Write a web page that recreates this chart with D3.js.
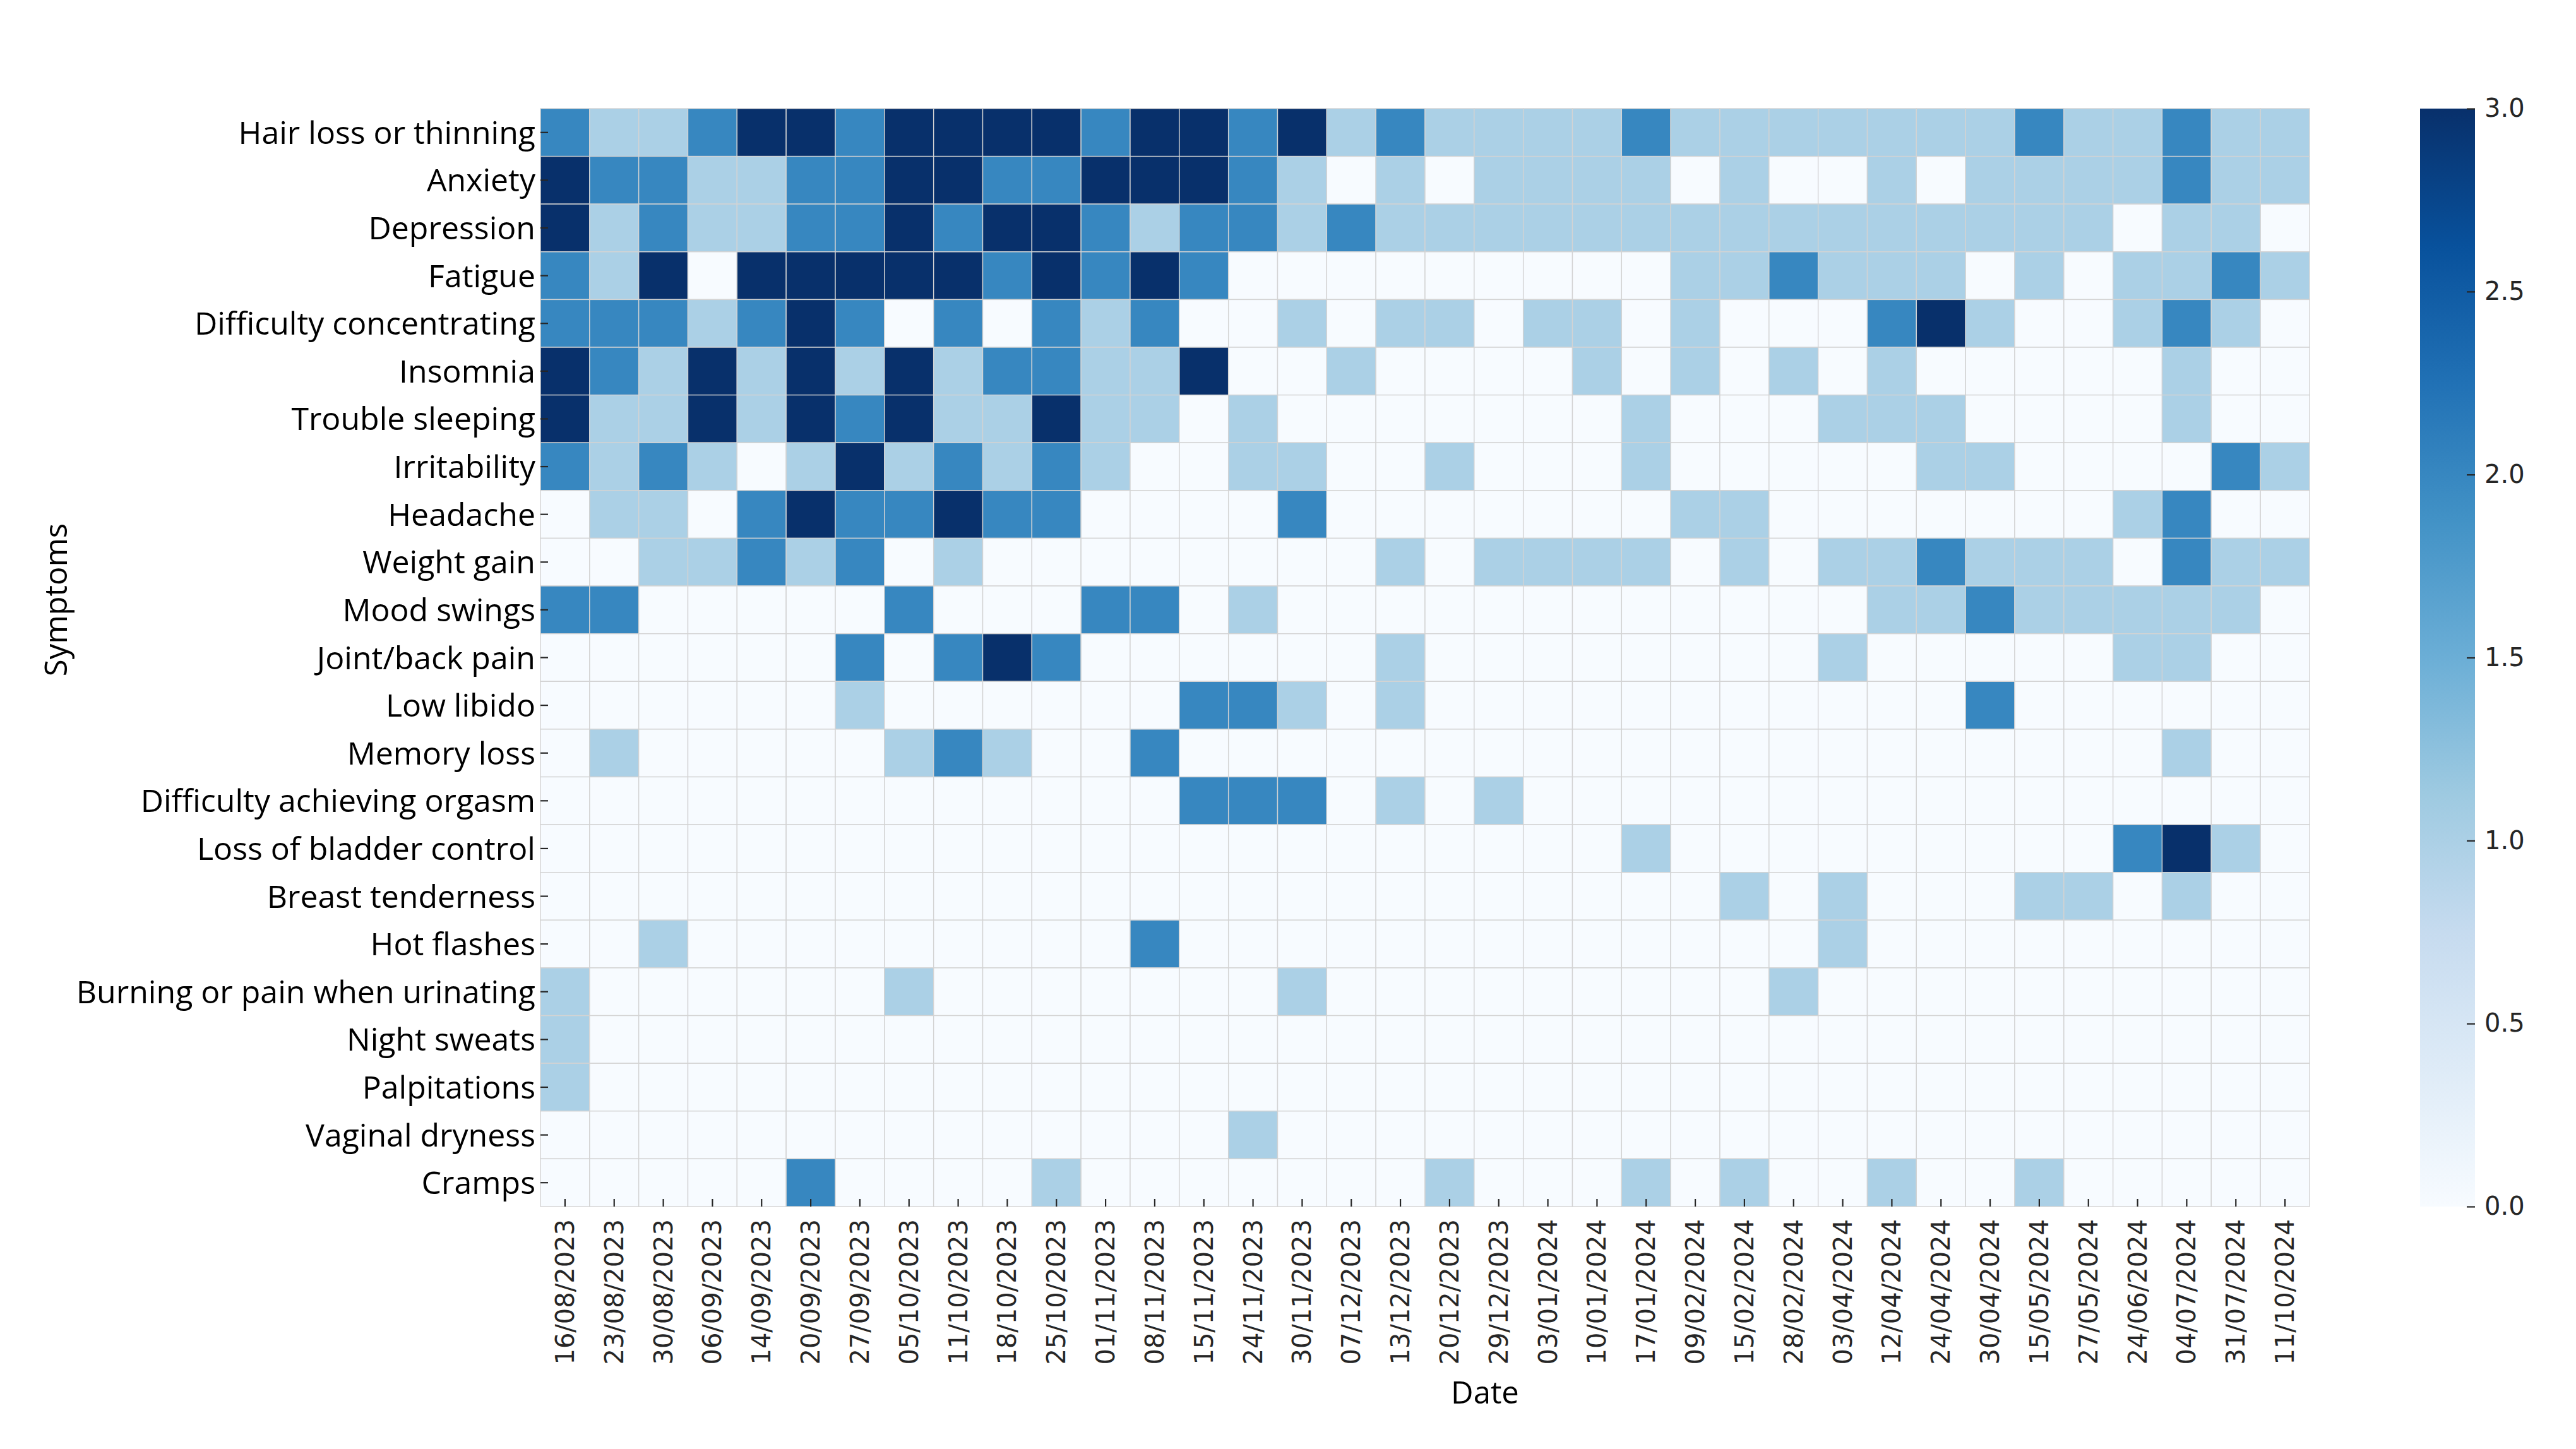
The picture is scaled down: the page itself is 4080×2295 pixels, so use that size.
<!DOCTYPE html>
<html>
<head>
<meta charset="utf-8">
<script src="https://cdnjs.cloudflare.com/ajax/libs/d3/7.8.5/d3.min.js"></script>
<style>
  html, body { margin: 0; padding: 0; background: #fff; }
  svg { display: block; }
</style>
</head>
<body>
<div id="chart"></div>
<script>
// ── data ──────────────────────────────────────────
const dates = [
  "16/08/2023", "23/08/2023", "30/08/2023", "06/09/2023", "14/09/2023", "20/09/2023",
  "27/09/2023", "05/10/2023", "11/10/2023", "18/10/2023", "25/10/2023", "01/11/2023",
  "08/11/2023", "15/11/2023", "24/11/2023", "30/11/2023", "07/12/2023", "13/12/2023",
  "20/12/2023", "29/12/2023", "03/01/2024", "10/01/2024", "17/01/2024", "09/02/2024",
  "15/02/2024", "28/02/2024", "03/04/2024", "12/04/2024", "24/04/2024", "30/04/2024",
  "15/05/2024", "27/05/2024", "24/06/2024", "04/07/2024", "31/07/2024", "11/10/2024"
];

const symptoms = [
  "Hair loss or thinning", "Anxiety", "Depression", "Fatigue", "Difficulty concentrating",
  "Insomnia", "Trouble sleeping", "Irritability", "Headache", "Weight gain", "Mood swings",
  "Joint/back pain", "Low libido", "Memory loss", "Difficulty achieving orgasm",
  "Loss of bladder control", "Breast tenderness", "Hot flashes",
  "Burning or pain when urinating", "Night sweats", "Palpitations", "Vaginal dryness", "Cramps"
];

// one row per symptom, one value per date (severity 0–3)
const severity = [
  [2,1,1,2,3,3,2,3,3,3,3,2,3,3,2,3,1,2,1,1,1,1,2,1,1,1,1,1,1,1,2,1,1,2,1,1],
  [3,2,2,1,1,2,2,3,3,2,2,3,3,3,2,1,0,1,0,1,1,1,1,0,1,0,0,1,0,1,1,1,1,2,1,1],
  [3,1,2,1,1,2,2,3,2,3,3,2,1,2,2,1,2,1,1,1,1,1,1,1,1,1,1,1,1,1,1,1,0,1,1,0],
  [2,1,3,0,3,3,3,3,3,2,3,2,3,2,0,0,0,0,0,0,0,0,0,1,1,2,1,1,1,0,1,0,1,1,2,1],
  [2,2,2,1,2,3,2,0,2,0,2,1,2,0,0,1,0,1,1,0,1,1,0,1,0,0,0,2,3,1,0,0,1,2,1,0],
  [3,2,1,3,1,3,1,3,1,2,2,1,1,3,0,0,1,0,0,0,0,1,0,1,0,1,0,1,0,0,0,0,0,1,0,0],
  [3,1,1,3,1,3,2,3,1,1,3,1,1,0,1,0,0,0,0,0,0,0,1,0,0,0,1,1,1,0,0,0,0,1,0,0],
  [2,1,2,1,0,1,3,1,2,1,2,1,0,0,1,1,0,0,1,0,0,0,1,0,0,0,0,0,1,1,0,0,0,0,2,1],
  [0,1,1,0,2,3,2,2,3,2,2,0,0,0,0,2,0,0,0,0,0,0,0,1,1,0,0,0,0,0,0,0,1,2,0,0],
  [0,0,1,1,2,1,2,0,1,0,0,0,0,0,0,0,0,1,0,1,1,1,1,0,1,0,1,1,2,1,1,1,0,2,1,1],
  [2,2,0,0,0,0,0,2,0,0,0,2,2,0,1,0,0,0,0,0,0,0,0,0,0,0,0,1,1,2,1,1,1,1,1,0],
  [0,0,0,0,0,0,2,0,2,3,2,0,0,0,0,0,0,1,0,0,0,0,0,0,0,0,1,0,0,0,0,0,1,1,0,0],
  [0,0,0,0,0,0,1,0,0,0,0,0,0,2,2,1,0,1,0,0,0,0,0,0,0,0,0,0,0,2,0,0,0,0,0,0],
  [0,1,0,0,0,0,0,1,2,1,0,0,2,0,0,0,0,0,0,0,0,0,0,0,0,0,0,0,0,0,0,0,0,1,0,0],
  [0,0,0,0,0,0,0,0,0,0,0,0,0,2,2,2,0,1,0,1,0,0,0,0,0,0,0,0,0,0,0,0,0,0,0,0],
  [0,0,0,0,0,0,0,0,0,0,0,0,0,0,0,0,0,0,0,0,0,0,1,0,0,0,0,0,0,0,0,0,2,3,1,0],
  [0,0,0,0,0,0,0,0,0,0,0,0,0,0,0,0,0,0,0,0,0,0,0,0,1,0,1,0,0,0,1,1,0,1,0,0],
  [0,0,1,0,0,0,0,0,0,0,0,0,2,0,0,0,0,0,0,0,0,0,0,0,0,0,1,0,0,0,0,0,0,0,0,0],
  [1,0,0,0,0,0,0,1,0,0,0,0,0,0,0,1,0,0,0,0,0,0,0,0,0,1,0,0,0,0,0,0,0,0,0,0],
  [1,0,0,0,0,0,0,0,0,0,0,0,0,0,0,0,0,0,0,0,0,0,0,0,0,0,0,0,0,0,0,0,0,0,0,0],
  [1,0,0,0,0,0,0,0,0,0,0,0,0,0,0,0,0,0,0,0,0,0,0,0,0,0,0,0,0,0,0,0,0,0,0,0],
  [0,0,0,0,0,0,0,0,0,0,0,0,0,0,1,0,0,0,0,0,0,0,0,0,0,0,0,0,0,0,0,0,0,0,0,0],
  [0,0,0,0,0,2,0,0,0,0,1,0,0,0,0,0,0,0,1,0,0,0,1,0,1,0,0,1,0,0,1,0,0,0,0,0]
];

const colorbarTicks = [0, 0.5, 1, 1.5, 2, 2.5, 3];
const valueDomain = [0, 3];

// ── layout ────────────────────────────────────────
const W = 4080, H = 2295;
const plot = { left: 856, top: 172, right: 3658, bottom: 1911 };
const bar = { left: 3833, width: 87 };

const labelFont = "'Open Sans', sans-serif";
const tickFont = "'DejaVu Sans', sans-serif";
const ink = "#262626";

const svg = d3.select("#chart").append("svg")
  .attr("width", W)
  .attr("height", H);

const x = d3.scaleBand().domain(dates).range([plot.left, plot.right]);
const y = d3.scaleBand().domain(symptoms).range([plot.top, plot.bottom]);

// matplotlib-style "Blues": linear through the 9 ColorBrewer stops
const blues = d3.schemeBlues[9];
const color = d3.scaleLinear()
  .domain(blues.map((_, i) => valueDomain[0] + (valueDomain[1] - valueDomain[0]) * i / 8))
  .range(blues)
  .interpolate(d3.interpolateRgb);

const cells = symptoms.flatMap((s, r) =>
  dates.map((d, c) => ({ symptom: s, date: d, value: severity[r][c] }))
);

/* ─── cells ─── */
svg.append("g")
  .selectAll("rect")
  .data(cells)
  .enter()
  .append("rect")
  .attr("x", d => x(d.date))
  .attr("y", d => y(d.symptom))
  .attr("width", x.bandwidth())
  .attr("height", y.bandwidth())
  .attr("fill", d => color(d.value))
  .attr("stroke", "#d3d3d3")
  .attr("stroke-width", 1.4);

/* ─── x axis (ticks point inward) ─── */
const gx = svg.append("g")
  .attr("transform", `translate(0,${plot.bottom})`)
  .call(d3.axisBottom(x).tickSize(-12).tickPadding(0));

gx.select(".domain").remove();
gx.selectAll(".tick line").attr("stroke", ink).attr("stroke-width", 2.2);
gx.selectAll(".tick text")
  .attr("transform", "rotate(-90)")
  .attr("x", -20)
  .attr("y", 0)
  .attr("dy", "0.35em")
  .attr("text-anchor", "end")
  .attr("fill", ink)
  .style("font-family", tickFont)
  .style("font-size", "40px");

/* ─── y axis ─── */
const gy = svg.append("g")
  .attr("transform", `translate(${plot.left},0)`)
  .call(d3.axisLeft(y).tickSize(-12).tickPadding(8));

gy.select(".domain").remove();
gy.selectAll(".tick line").attr("stroke", ink).attr("stroke-width", 2.2);
gy.selectAll(".tick text")
  .attr("dy", "0.36em")
  .attr("fill", "#000")
  .style("font-family", labelFont)
  .style("font-size", "50px");

/* ─── axis titles ─── */
svg.append("text")
  .attr("x", 2352)
  .attr("y", 2223)
  .attr("text-anchor", "middle")
  .attr("fill", "#000")
  .style("font-family", labelFont)
  .style("font-size", "49px")
  .text("Date");

svg.append("text")
  .attr("transform", "translate(106,950) rotate(-90)")
  .attr("text-anchor", "middle")
  .attr("fill", "#000")
  .style("font-family", labelFont)
  .style("font-size", "49px")
  .text("Symptoms");

/* ─── colour bar ─── */
const grad = svg.append("defs").append("linearGradient")
  .attr("id", "blues-grad")
  .attr("x1", 0).attr("y1", 1)
  .attr("x2", 0).attr("y2", 0);

grad.selectAll("stop")
  .data(blues)
  .enter()
  .append("stop")
  .attr("offset", (_, i) => `${(i / 8) * 100}%`)
  .attr("stop-color", d => d);

svg.append("rect")
  .attr("x", bar.left)
  .attr("y", plot.top)
  .attr("width", bar.width)
  .attr("height", plot.bottom - plot.top)
  .attr("fill", "url(#blues-grad)");

const cScale = d3.scaleLinear().domain(valueDomain).range([plot.bottom, plot.top]);

const gc = svg.append("g")
  .attr("transform", `translate(${bar.left + bar.width},0)`)
  .call(d3.axisRight(cScale)
    .tickValues(colorbarTicks)
    .tickFormat(d3.format(".1f"))
    .tickSize(-13)
    .tickPadding(15));

gc.select(".domain").remove();
gc.selectAll(".tick line").attr("stroke", ink).attr("stroke-width", 2.2);
gc.selectAll(".tick text")
  .attr("fill", ink)
  .style("font-family", tickFont)
  .style("font-size", "40px");
</script>
</body>
</html>
